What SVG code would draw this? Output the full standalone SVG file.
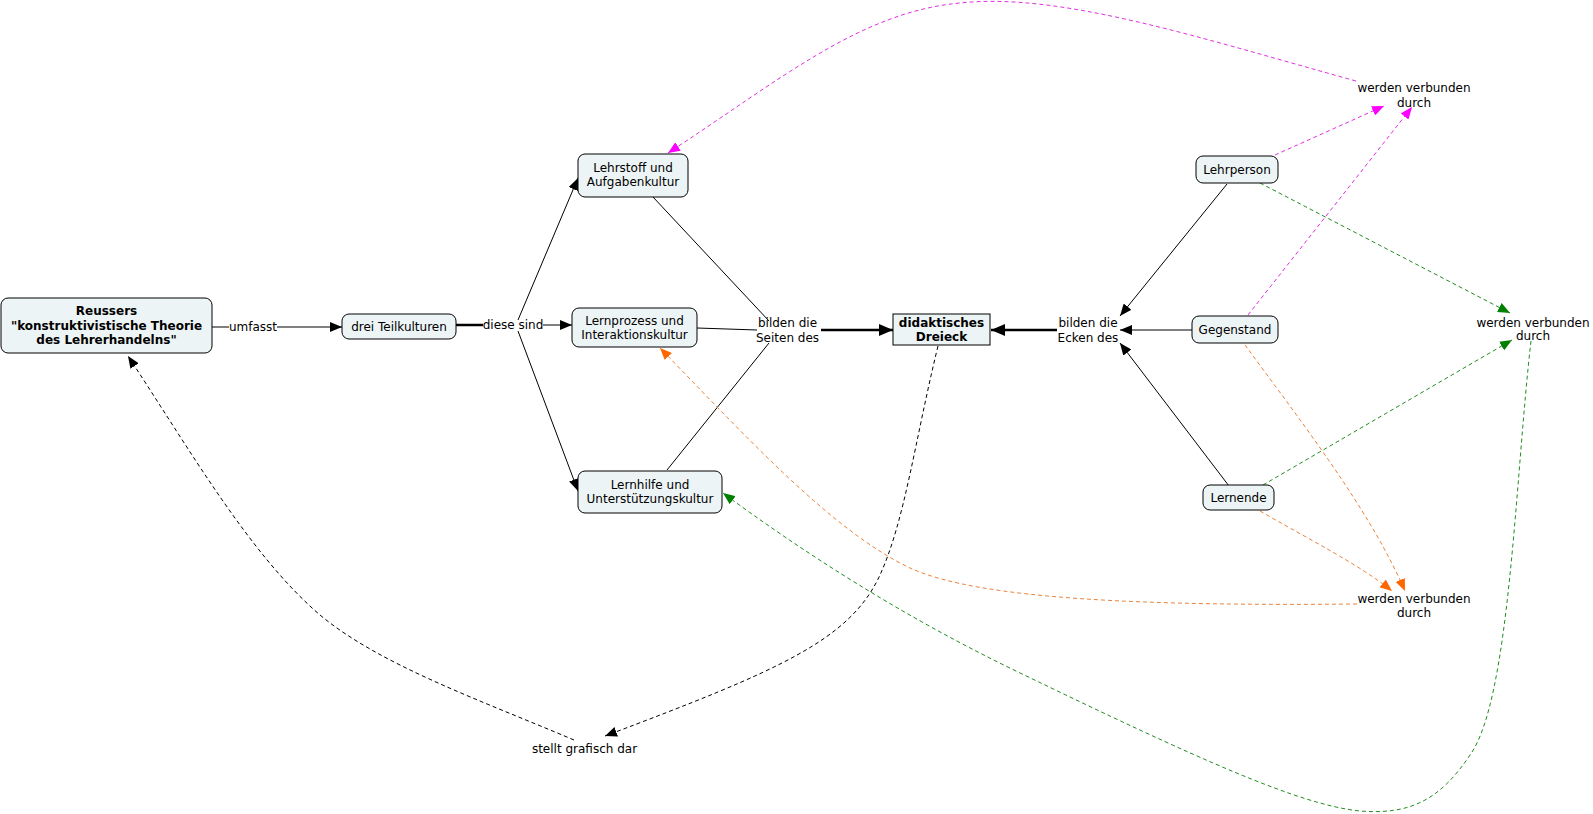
<svg xmlns="http://www.w3.org/2000/svg" width="1593" height="814" viewBox="0 0 1593 814">
<style>
text{font-family:"DejaVu Sans","Verdana",sans-serif;font-size:12px;fill:#000;text-anchor:middle}
.b{font-weight:bold}
.node{fill:#EDF4F6;stroke:#000;stroke-width:1}
.ln{fill:none;stroke:#000;stroke-width:1}
.thick{fill:none;stroke:#000;stroke-width:2.5}
.dk{fill:none;stroke:#000;stroke-width:1;stroke-dasharray:4,3}
.dm{fill:none;stroke:#E030E0;stroke-width:1;stroke-dasharray:4,3}
.dg{fill:none;stroke:#228B22;stroke-width:1;stroke-dasharray:4,3}
.do{fill:none;stroke:#E8843C;stroke-width:1;stroke-dasharray:4,3}
</style>
<defs>
<marker id="ak" markerUnits="userSpaceOnUse" markerWidth="12" markerHeight="10" viewBox="0 0 12 10" refX="12" refY="5" orient="auto"><path d="M0,0L12,5L0,10z" fill="#000"/></marker>
<marker id="akt" markerUnits="userSpaceOnUse" markerWidth="14" markerHeight="12" viewBox="0 0 14 12" refX="14" refY="6" orient="auto"><path d="M0,0L14,6L0,12z" fill="#000"/></marker>
<marker id="am" markerUnits="userSpaceOnUse" markerWidth="12" markerHeight="10" viewBox="0 0 12 10" refX="12" refY="5" orient="auto"><path d="M0,0L12,5L0,10z" fill="#FF00FF"/></marker>
<marker id="ag" markerUnits="userSpaceOnUse" markerWidth="12" markerHeight="10" viewBox="0 0 12 10" refX="12" refY="5" orient="auto"><path d="M0,0L12,5L0,10z" fill="#008000"/></marker>
<marker id="ao" markerUnits="userSpaceOnUse" markerWidth="12" markerHeight="10" viewBox="0 0 12 10" refX="12" refY="5" orient="auto"><path d="M0,0L12,5L0,10z" fill="#FF6600"/></marker>
</defs>

<g id="connectors">
<!-- umfasst -->
<path class="ln" d="M212,327H229"/>
<path class="ln" d="M277,327H342" marker-end="url(#ak)"/>
<!-- diese sind -->
<path class="thick" d="M456,325H483"/>
<path class="ln" d="M543,325H572" marker-end="url(#ak)"/>
<path class="ln" d="M518,320L578,178" marker-end="url(#ak)"/>
<path class="ln" d="M518,331L578,491" marker-end="url(#ak)"/>
<!-- bilden die Seiten des -->
<path class="ln" d="M653,197L769,321"/>
<path class="ln" d="M697,328L757,330"/>
<path class="ln" d="M667,470L769,343"/>
<path class="thick" d="M821,330H893" marker-end="url(#akt)"/>
<!-- bilden die Ecken des -->
<path class="ln" d="M1227,184L1120,316" marker-end="url(#ak)"/>
<path class="ln" d="M1192,330H1120" marker-end="url(#ak)"/>
<path class="ln" d="M1229,486L1120,343" marker-end="url(#ak)"/>
<path class="thick" d="M1057,330H991" marker-end="url(#akt)"/>
<!-- stellt grafisch dar -->
<path class="dk" d="M938,346C915,440 905,520 880,575C850,640 780,670 605,736" marker-end="url(#ak)"/>
<path class="dk" d="M574,740C480,700 380,665 320,615C250,555 190,450 128,356" marker-end="url(#ak)"/>
<!-- magenta -->
<path class="dm" d="M1275,155L1384,106" marker-end="url(#am)"/>
<path class="dm" d="M1248,315L1412,107" marker-end="url(#am)"/>
<path class="dm" d="M1356,81C1200,38 1060,-8 960,3C860,12 780,80 668,153" marker-end="url(#am)"/>
<!-- green -->
<path class="dg" d="M1260,183L1510,313" marker-end="url(#ag)"/>
<path class="dg" d="M1263,485L1512,340" marker-end="url(#ag)"/>
<path class="dg" d="M1531,341C1515,480 1510,700 1470,755C1440,800 1410,815 1360,811C1300,805 1200,760 1016,671C900,615 800,550 723,493" marker-end="url(#ag)"/>
<!-- orange -->
<path class="do" d="M1245,345C1300,420 1370,510 1405,591" marker-end="url(#ao)"/>
<path class="do" d="M1260,511C1310,540 1360,565 1392,591" marker-end="url(#ao)"/>
<path class="do" d="M1357,604C1150,606 980,600 910,568C830,530 740,430 660,348" marker-end="url(#ao)"/>
</g>

<g id="reussers"><rect class="node" x="1" y="298" width="211" height="55" rx="7"/>
<text class="b" x="106.5" y="315">Reussers</text><text class="b" x="106.5" y="329.5">"konstruktivistische Theorie</text><text class="b" x="106.5" y="344">des Lehrerhandelns"</text></g>
<g id="lbl-umfasst"><text x="253" y="331">umfasst</text></g>
<g id="drei"><rect class="node" x="342" y="314" width="114" height="25" rx="7"/><text x="399" y="330.5">drei Teilkulturen</text></g>
<g id="lbl-diese"><text x="513" y="329">diese sind</text></g>
<g id="lehrstoff"><rect class="node" x="578" y="154" width="110" height="43" rx="7"/><text x="633" y="172">Lehrstoff und</text><text x="633" y="186">Aufgabenkultur</text></g>
<g id="lernprozess"><rect class="node" x="572" y="308" width="125" height="39" rx="7"/><text x="634.5" y="324.5">Lernprozess und</text><text x="634.5" y="338.5">Interaktionskultur</text></g>
<g id="lernhilfe"><rect class="node" x="578" y="471" width="144" height="42" rx="7"/><text x="650" y="488.5">Lernhilfe und</text><text x="650" y="503">Unterstützungskultur</text></g>
<g id="lbl-seiten"><text x="787.5" y="327">bilden die</text><text x="787.5" y="341.5">Seiten des</text></g>
<g id="dreieck"><rect class="node" x="893" y="314" width="97" height="31"/><text class="b" x="941.5" y="326.5">didaktisches</text><text class="b" x="941.5" y="341">Dreieck</text></g>
<g id="lbl-ecken"><text x="1088" y="327">bilden die</text><text x="1088" y="341.5">Ecken des</text></g>
<g id="lehrperson"><rect class="node" x="1196" y="156" width="82" height="27" rx="7"/><text x="1237" y="173.5">Lehrperson</text></g>
<g id="gegenstand"><rect class="node" x="1192" y="316" width="86" height="27" rx="7"/><text x="1235" y="333.5">Gegenstand</text></g>
<g id="lernende"><rect class="node" x="1203" y="485" width="71" height="25" rx="7"/><text x="1238.5" y="501.5">Lernende</text></g>
<g id="lbl-wv-top"><text x="1414" y="92">werden verbunden</text><text x="1414" y="107">durch</text></g>
<g id="lbl-wv-right"><text x="1533" y="326.5">werden verbunden</text><text x="1533" y="340">durch</text></g>
<g id="lbl-wv-bottom"><text x="1414" y="602.5">werden verbunden</text><text x="1414" y="617">durch</text></g>
<g id="lbl-stellt"><text x="584.5" y="753">stellt grafisch dar</text></g>
</svg>
